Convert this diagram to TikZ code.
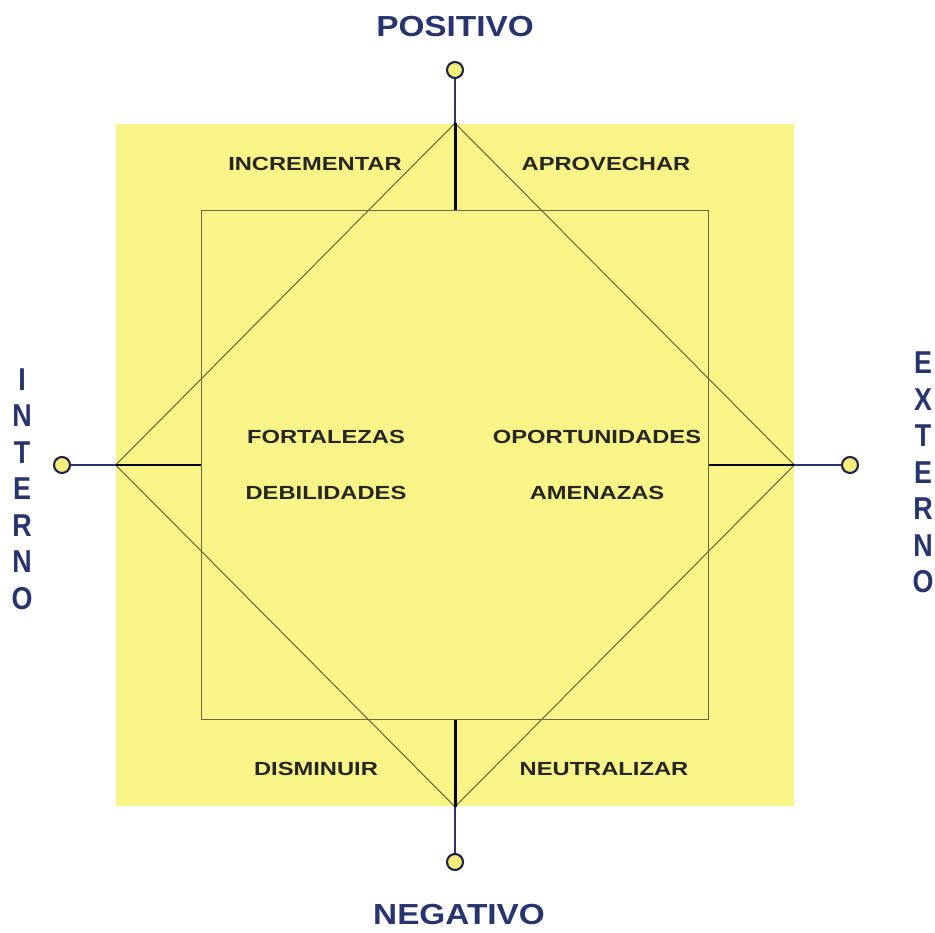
\documentclass[tikz,border=0pt]{standalone}
\usepackage{fontspec}
\setmainfont{Liberation Sans}
\newfontfamily\rotulofont[FakeStretch=1.25]{Liberation Sans}
\newfontfamily\titulofont[FakeStretch=1.15]{Liberation Sans}
\newfontfamily\ladofont[FakeStretch=0.85]{Liberation Sans}
\usetikzlibrary{positioning}
\definecolor{amarillo}{RGB}{249,244,135}
\definecolor{polofill}{RGB}{246,238,120}
\definecolor{marino}{RGB}{40,52,110}
\definecolor{oliva}{RGB}{110,104,60}
\definecolor{textoosc}{RGB}{38,38,38}
\tikzset{
  rotulo/.style={
    font=\rotulofont\bfseries\fontsize{10.8}{12}\selectfont,
    text=textoosc, inner sep=0pt
  },
  titulo/.style={
    font=\titulofont\bfseries\fontsize{16.5}{19}\selectfont,
    text=marino, inner sep=0pt
  },
  lado/.style={
    font=\ladofont\bfseries\fontsize{18}{20.8}\selectfont,
    text=marino, align=center, inner sep=0pt
  },
  polo/.style={circle, draw=marino!70!black, line width=1.2pt, fill=polofill,
    minimum size=0.32cm, inner sep=0pt},
  fino/.style={draw=oliva, line width=0.6pt},
  eje/.style={line width=1.7pt, black},
  enlace/.style={line width=1.3pt, marino}
}

\begin{document}
\begin{tikzpicture}[x=0.02cm, y=-0.02cm]
\useasboundingbox (0,0) rectangle (935,932);

% Fondo y cuadro interior
\node[fill=amarillo, minimum width=13.56cm, minimum height=13.66cm, inner sep=0pt] (fondo) at (455,465) {};
\node[fino, minimum width=10.14cm, minimum height=10.18cm, inner sep=0pt] (cuadro) at (455,465) {};

% Rombo
\draw[fino] (fondo.north) -- (fondo.east) -- (fondo.south) -- (fondo.west) -- cycle;

% Polos
\node[polo] (pn) at (fondo.north |- 0,70) {};
\node[polo] (ps) at (fondo.north |- 0,862) {};
\node[polo] (po) at (62,465) {};
\node[polo] (pe) at (850,465) {};

% Ejes
\draw[enlace] (pn) -- (fondo.north);
\draw[enlace] (ps) -- (fondo.south);
\draw[enlace] (po) -- (fondo.west);
\draw[enlace] (pe) -- (fondo.east);
\draw[eje] (fondo.north) -- (cuadro.north);
\draw[eje] (fondo.south) -- (cuadro.south);
\draw[eje] (fondo.west) -- (cuadro.west);
\draw[eje] (fondo.east) -- (cuadro.east);

% Titulos
\node[titulo] (positivo) at (455,27) {POSITIVO};
\node[titulo] (negativo) at (459,915) {NEGATIVO};
\node[lado] (interno) at (22,489) {I\\N\\T\\E\\R\\N\\O};
\node[lado] (externo) at (923,472.5) {E\\X\\T\\E\\R\\N\\O};

% Rotulos
\node[rotulo] (incrementar) at (315,164) {INCREMENTAR};
\node[rotulo] (aprovechar) at (606,164) {APROVECHAR};
\node[rotulo] (fortalezas) at (326,437) {FORTALEZAS};
\node[rotulo] (oportunidades) at (597,437) {OPORTUNIDADES};
\node[rotulo] (debilidades) at (326,493) {DEBILIDADES};
\node[rotulo] (amenazas) at (597,493) {AMENAZAS};
\node[rotulo] (disminuir) at (316,769) {DISMINUIR};
\node[rotulo] (neutralizar) at (604,769) {NEUTRALIZAR};

\end{tikzpicture}
\end{document}
